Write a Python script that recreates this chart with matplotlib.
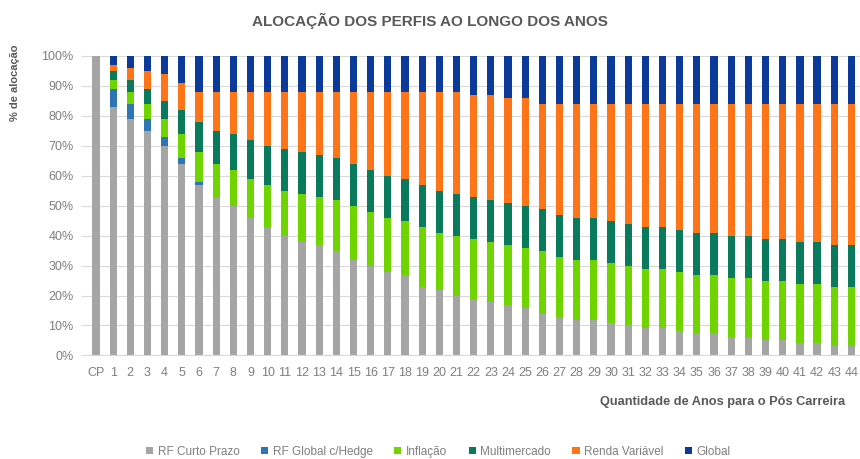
import numpy as np
import matplotlib
matplotlib.use('Agg')
from matplotlib import pyplot as plt
from matplotlib.ticker import PercentFormatter

plt.rcParams['font.family'] = ['Liberation Sans', 'DejaVu Sans']

categories = ['CP'] + [str(i) for i in range(1, 45)]

# valores em %
rf_curto = [100, 83, 79, 75, 70, 64, 57, 53, 50, 46, 43, 40, 38, 37, 35, 32,
            30, 28, 27, 23, 22, 20, 19, 18, 17, 16, 14, 13, 12, 12, 11, 10,
            9, 9, 8, 7, 7, 6, 6, 5, 5, 4, 4, 3, 3]
rf_global_hedge = [0, 6, 5, 4, 3, 2, 1] + [0] * 38
inflacao = [0, 3, 4, 5, 6, 8, 10, 11, 12, 13, 14, 15, 16, 16, 17, 18,
            18, 18, 18, 20, 19, 20, 20, 20, 20, 20, 21, 20, 20, 20, 20, 20,
            20, 20, 20, 20, 20, 20, 20, 20, 20, 20, 20, 20, 20]
multimercado = [0, 3, 4, 5, 6, 8, 10, 11, 12, 13, 13, 14, 14, 14, 14, 14,
                14, 14, 14, 14, 14, 14, 14, 14, 14, 14, 14, 14, 14, 14, 14,
                14, 14, 14, 14, 14, 14, 14, 14, 14, 14, 14, 14, 14, 14]
renda_variavel = [0, 2, 4, 6, 9, 9, 10, 13, 14, 16, 18, 19, 20, 21, 22, 24,
                  26, 28, 29, 31, 33, 34, 34, 35, 35, 36, 35, 37, 38, 38, 39,
                  40, 41, 41, 42, 43, 43, 44, 44, 45, 45, 46, 46, 47, 47]
global_ = [0, 3, 4, 5, 6, 9, 12, 12, 12, 12, 12, 12, 12, 12, 12, 12,
           12, 12, 12, 12, 12, 12, 13, 13, 14, 14, 16, 16, 16, 16, 16, 16,
           16, 16, 16, 16, 16, 16, 16, 16, 16, 16, 16, 16, 16]

series = [
    ('RF Curto Prazo', rf_curto, '#a5a5a5'),
    ('RF Global c/Hedge', rf_global_hedge, '#2e75b6'),
    ('Inflação', inflacao, '#6fd400'),
    ('Multimercado', multimercado, '#0a7a5c'),
    ('Renda Variável', renda_variavel, '#ff7416'),
    ('Global', global_, '#0b3a9a'),
]

fig = plt.figure(figsize=(8.6, 4.59), dpi=100)
ax = fig.add_axes([0.1016, 0.2255, 0.8984, 0.6535])

x = np.arange(len(categories))
bottom = np.zeros(len(categories))
for name, vals, color in series:
    vals = np.array(vals, dtype=float)
    ax.bar(x, vals, 0.42, bottom=bottom, color=color, label=name, zorder=2)
    bottom += vals

ax.set_xlim(-0.5, len(categories) - 0.5)
ax.set_ylim(0, 100)
ax.set_yticks(np.arange(0, 101, 10))
ax.yaxis.set_major_formatter(PercentFormatter(decimals=0))
ax.set_xticks(x)
ax.set_xticklabels(categories)
ax.grid(axis='y', color='#d9d9d9', linewidth=0.8, zorder=0)
for s in ['top', 'right', 'left']:
    ax.spines[s].set_visible(False)
ax.spines['bottom'].set_color('#d9d9d9')
ax.tick_params(axis='y', colors='#d9d9d9', labelcolor='#7f7f7f', labelsize=9,
               length=4, pad=6)
ax.tick_params(axis='x', length=0, labelcolor='#7f7f7f', labelsize=9, pad=8)

fig.text(0.5, 0.955, 'ALOCAÇÃO DOS PERFIS AO LONGO DOS ANOS', ha='center',
         va='center', fontsize=11, fontweight='bold', color='#595959')
fig.text(0.018, 0.82, '% de alocação', rotation=90, ha='center', va='center',
         fontsize=8, fontweight='bold', color='#595959')
fig.text(0.983, 0.124, 'Quantidade de Anos para o Pós Carreira', ha='right',
         va='center', fontsize=9.2, fontweight='bold', color='#595959')

fig.legend(loc='center', bbox_to_anchor=(0.51, 0.016), ncol=6, frameon=False,
           fontsize=8.5, handlelength=0.6, handleheight=0.6, columnspacing=1.8,
           handletextpad=0.4, labelcolor='#7f7f7f')

fig.savefig('out.png', dpi=100)
